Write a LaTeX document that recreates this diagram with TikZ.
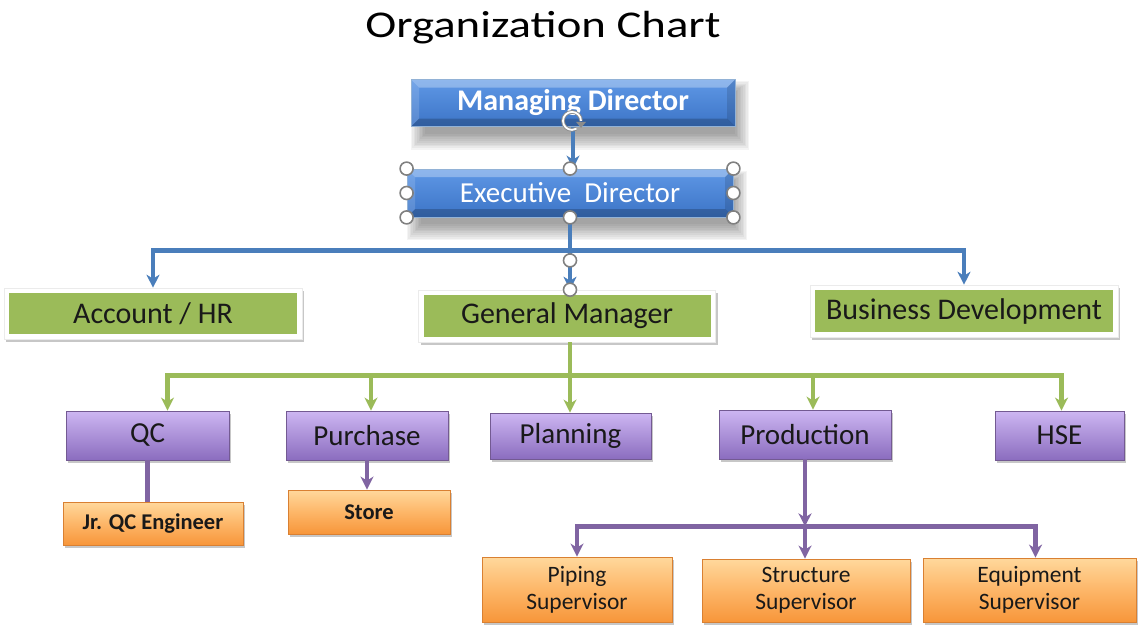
\documentclass[tikz,border=0pt]{standalone}
\usepackage{fontspec}
\setmainfont{Carlito}
\usetikzlibrary{arrows.meta,shadows,calc,backgrounds}
\definecolor{cblue}{HTML}{4A7EBB}
\definecolor{cgreen}{HTML}{9BBB59}
\definecolor{cpurple}{HTML}{8064A2}
\definecolor{btop}{HTML}{5F98E6}
\definecolor{bbot}{HTML}{3C74C6}
\definecolor{ptop}{HTML}{CDB6F2}
\definecolor{pbot}{HTML}{8B6DBF}
\definecolor{otop}{HTML}{FFD89C}
\definecolor{omid}{HTML}{FDB668}
\definecolor{obot}{HTML}{F7963A}
\definecolor{oedge}{HTML}{D98032}
\begin{document}
\begin{tikzpicture}[x=1pt,y=-1pt,
  blueb/.style={rectangle, inner sep=0pt, draw=cblue!60!white, line width=0.8pt,
    top color=btop, bottom color=bbot, text=white,
    path picture={
      \fill[white,opacity=0.3] (path picture bounding box.north west) -- (path picture bounding box.north east) -- ($(path picture bounding box.north east)+(-8,8)$) -- ($(path picture bounding box.north west)+(8,8)$) -- cycle;
      \fill[black,opacity=0.2] (path picture bounding box.south west) -- (path picture bounding box.south east) -- ($(path picture bounding box.south east)+(-8,-8)$) -- ($(path picture bounding box.south west)+(8,-8)$) -- cycle;
      \fill[white,opacity=0.14] (path picture bounding box.north west) -- ($(path picture bounding box.north west)+(8,8)$) -- ($(path picture bounding box.south west)+(8,-8)$) -- (path picture bounding box.south west) -- cycle;
      \fill[black,opacity=0.12] (path picture bounding box.north east) -- ($(path picture bounding box.north east)+(-8,8)$) -- ($(path picture bounding box.south east)+(-8,-8)$) -- (path picture bounding box.south east) -- cycle;
    }},
  greenb/.style={rectangle, inner sep=0pt, fill=white, draw=black!8, line width=0.6pt,
    drop shadow={shadow xshift=2pt, shadow yshift=-3pt, opacity=0.22, fill=black},
    text=black!90,
    path picture={\fill[cgreen] ($(path picture bounding box.north west)+(5,5)$) rectangle ($(path picture bounding box.south east)+(-5,-5)$);},
    font=\fontsize{30}{34}\selectfont},
  purpb/.style={rectangle, inner sep=0pt, draw=cpurple!90!black, line width=0.8pt,
    top color=ptop, bottom color=pbot, text=black!90,
    drop shadow={shadow xshift=2pt, shadow yshift=-3pt, opacity=0.22, fill=black},
    font=\fontsize{29}{33}\selectfont},
  orangeb/.style={rectangle, inner sep=0pt, draw=oedge, line width=0.8pt,
    top color=otop, bottom color=obot, middle color=omid, text=black!90, align=center,
    drop shadow={shadow xshift=2pt, shadow yshift=-3pt, opacity=0.22, fill=black},
    font=\fontsize{23.5}{27}\selectfont},
  bconn/.style={cblue, line width=4.2pt, -{Stealth[length=13pt,width=13pt,inset=4pt]}},
  bline/.style={cblue, line width=4.2pt},
  gconn/.style={cgreen, line width=4.2pt, -{Stealth[length=13pt,width=13pt,inset=4pt]}},
  gline/.style={cgreen, line width=4.2pt},
  pconn/.style={cpurple, line width=4.2pt, -{Stealth[length=13pt,width=13pt,inset=4pt]}},
  pline/.style={cpurple, line width=4.2pt},
  handle/.style={circle, draw=black!50, fill=white, line width=1.6pt, minimum size=13pt, inner sep=0pt}
]
\useasboundingbox (0,0) rectangle (1140,626);

% title
\node (title) at (543,28) {\scalebox{1.3}[1.05]{\fontsize{36}{40}\selectfont Organization Chart}};

% top level
\node[blueb, minimum width=324pt, minimum height=47pt] (md) at (573,103) {\fontsize{30}{34}\selectfont\bfseries Managing Director};
\node[blueb, minimum width=326pt, minimum height=48pt] (ed) at (570,193) {\fontsize{29}{34}\selectfont Executive\ \ Director};

% soft shadows of the blue boxes
\begin{scope}[on background layer]
\foreach \k in {1,...,10} {
  \fill[black, opacity=0.045] ($(md.north west)+(16-1.6*\k,14-1.2*\k)$) rectangle ($(md.south east)+(1.6*\k-2,5+1.8*\k)$);
  \fill[black, opacity=0.045] ($(ed.north west)+(16-1.6*\k,14-1.2*\k)$) rectangle ($(ed.south east)+(1.6*\k-2,5+1.8*\k)$);
}
\end{scope}

% green level
\node[greenb, minimum width=298pt, minimum height=51pt] (ahr) at (153,313.5) {Account / HR};
\node[greenb, minimum width=297pt, minimum height=52pt] (gm) at (567,316) {General Manager};
\node[greenb, minimum width=308pt, minimum height=52pt] (bd) at (964,311) {Business Development};

% purple level
\node[purpb, minimum width=163pt, minimum height=49pt] (qc) at (147.5,435.5) {QC};
\node[purpb, minimum width=162pt, minimum height=49pt] (pur) at (367,435.5) {Purchase};
\node[purpb, minimum width=161pt, minimum height=46pt] (plan) at (570.5,436) {Planning};
\node[purpb, minimum width=172pt, minimum height=49pt] (prod) at (805,434.5) {Production};
\node[purpb, minimum width=129pt, minimum height=49pt] (hse) at (1059.5,435.5) {HSE};

% orange level
\node[orangeb, minimum width=180pt, minimum height=43pt, font=\fontsize{22.5}{26}\selectfont\bfseries] (jr) at (153,523.5) {Jr. QC Engineer};
\node[orangeb, minimum width=162pt, minimum height=44pt, font=\fontsize{22.5}{26}\selectfont\bfseries] (store) at (369,512) {Store};
\node[orangeb, minimum width=190pt, minimum height=65pt] (pip) at (577,589.5) {Piping\\Supervisor};
\node[orangeb, minimum width=208pt, minimum height=63pt] (str) at (806,590.5) {Structure\\Supervisor};
\node[orangeb, minimum width=213pt, minimum height=64pt] (eq) at (1029.5,590) {Equipment\\Supervisor};

% junctions
\coordinate (bj) at ($(ed.south)+(0,33)$);
\coordinate (gj) at ($(bj)+(0,125)$);
\coordinate (pj) at ($(prod.south)+(0,67)$);

% blue connectors
\draw[bconn] (md.south) -- (md.south |- ed.north);
\draw[bline] (ed.south) -- (bj);
\draw[bconn] (bj) -| (ahr.north);
\draw[bconn] (bj) -| (bd.north);
\draw[bconn] (bj) -- (bj |- gm.north);

% green connectors
\draw[gline] (bj |- gm.south) -- (gj);
\draw[gconn] (gj) -| ([xshift=20pt]qc.north);
\draw[gconn] (gj) -| ([xshift=4pt]pur.north);
\draw[gconn] (gj) -- (gj |- plan.north);
\draw[gconn] (gj) -| ([xshift=8pt]prod.north);
\draw[gconn] (gj) -| ([xshift=2pt]hse.north);

% purple connectors
\draw[pline] (qc.south) -- (qc.south |- jr.north);
\draw[pconn] (pur.south) -- (pur.south |- store.north);
\draw[pconn] (prod.south) -- (pj);
\draw[pconn] (pj) -| (pip.north);
\draw[pconn] (pj) -- (pj |- str.north);
\draw[pconn] (pj) -| ([xshift=6pt]eq.north);

% selection handles
\foreach \a [count=\i] in {north west, north, north east, west, east, south west, south, south east}
  \node[handle] (h\i) at (ed.\a) {};
\node[handle] (h9) at ($(bj)+(0,10)$) {};
\node[handle] (h10) at (bj |- gm.north) {};
% rotate handle
\coordinate (rot) at ($(md.south)+(-1,-6)$);
\draw[black!45, line width=3.6pt] ($(rot)+(9,0)$) arc[start angle=0, end angle=300, radius=9pt];
\draw[white, line width=1.8pt] ($(rot)+(9,0)$) arc[start angle=0, end angle=300, radius=9pt];
\fill[black!45] ($(rot)+(4,1)$) -- ($(rot)+(14,1)$) -- ($(rot)+(9,7)$) -- cycle;
\end{tikzpicture}
\end{document}
